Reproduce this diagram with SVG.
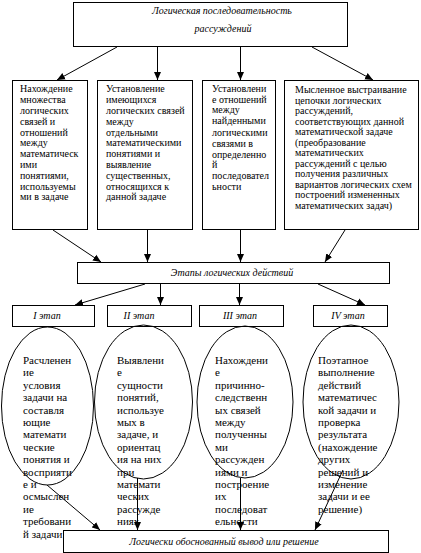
<svg xmlns="http://www.w3.org/2000/svg" width="421" height="553" viewBox="0 0 421 553">
<style>
.box{fill:#fff;stroke:#000;stroke-width:1}
.ell{fill:none;stroke:#000;stroke-width:1}
.t{font-family:"Liberation Serif","Times New Roman",serif;font-size:10px;fill:#000}
.e{font-family:"Liberation Serif","Times New Roman",serif;font-size:11px;fill:#000}
.i{font-family:"Liberation Serif","Times New Roman",serif;font-size:10px;font-style:italic;fill:#000;text-anchor:middle}
.c{fill:none;stroke:#000;stroke-width:1}
</style>
<defs>
<marker id="ah" markerUnits="userSpaceOnUse" markerWidth="8" markerHeight="8" viewBox="0 0 8 8" refX="8" refY="4" orient="auto">
<path d="M0,0.5 L8,4 L0,7.5 Z" fill="#000"/>
</marker>
</defs>
<rect width="421" height="553" fill="#fff"/>

<g id="top">
<rect class="box" x="73.5" y="2.5" width="274" height="44"/>
<text class="i" x="222" y="14">Логическая последовательность</text>
<text class="i" x="223" y="32">рассуждений</text>
</g>

<g id="box1">
<rect class="box" x="12.5" y="80.5" width="75" height="149"/>
<text class="t">
<tspan x="20" y="92">Нахождение</tspan>
<tspan x="20" y="103">множества</tspan>
<tspan x="20" y="114">логических</tspan>
<tspan x="20" y="125">связей и</tspan>
<tspan x="20" y="135.5">отношений</tspan>
<tspan x="20" y="146">между</tspan>
<tspan x="20" y="157">математическ</tspan>
<tspan x="20" y="168">ими</tspan>
<tspan x="20" y="179">понятиями,</tspan>
<tspan x="20" y="189.5">используемы</tspan>
<tspan x="20" y="200">ми в задаче</tspan>
</text>
</g>

<g id="box2">
<rect class="box" x="97.5" y="80.5" width="95" height="149"/>
<text class="t">
<tspan x="106" y="92">Установление</tspan>
<tspan x="106" y="103">имеющихся</tspan>
<tspan x="106" y="114">логических связей</tspan>
<tspan x="106" y="125">между</tspan>
<tspan x="106" y="135.5">отдельными</tspan>
<tspan x="106" y="146">математическими</tspan>
<tspan x="106" y="157">понятиями и</tspan>
<tspan x="106" y="168">выявление</tspan>
<tspan x="106" y="179">существенных,</tspan>
<tspan x="106" y="189.5">относящихся к</tspan>
<tspan x="106" y="200">данной задаче</tspan>
</text>
</g>

<g id="box3">
<rect class="box" x="202.5" y="80.5" width="73" height="149"/>
<text class="t">
<tspan x="212" y="92">Установлени</tspan>
<tspan x="212" y="102.5">е отношений</tspan>
<tspan x="212" y="113">между</tspan>
<tspan x="212" y="124">найденными</tspan>
<tspan x="212" y="135.5">логическими</tspan>
<tspan x="212" y="146.5">связями в</tspan>
<tspan x="212" y="157.5">определенно</tspan>
<tspan x="212" y="168">й</tspan>
<tspan x="212" y="179">последовател</tspan>
<tspan x="212" y="190">ьности</tspan>
</text>
</g>

<g id="box4">
<rect class="box" x="284.5" y="80.5" width="134" height="149"/>
<text class="t">
<tspan x="295" y="93">Мысленное выстраивание</tspan>
<tspan x="295" y="103.5">цепочки логических</tspan>
<tspan x="295" y="114">рассуждений,</tspan>
<tspan x="295" y="124.5">соответствующих данной</tspan>
<tspan x="295" y="135">математической задаче</tspan>
<tspan x="295" y="145.5">(преобразование</tspan>
<tspan x="295" y="156">математических</tspan>
<tspan x="295" y="166.5">рассуждений с целью</tspan>
<tspan x="295" y="177">получения различных</tspan>
<tspan x="295" y="187.5">вариантов логических схем</tspan>
<tspan x="295" y="198">построений измененных</tspan>
<tspan x="295" y="208.5">математических задач)</tspan>
</text>
</g>

<g id="stages">
<rect class="box" x="77.5" y="262.5" width="312" height="21"/>
<text class="i" x="232" y="276">Этапы логических действий</text>
</g>

<g id="stage1">
<rect class="box" x="12.5" y="305.5" width="82" height="21"/>
<text class="i" x="47" y="319">I этап</text>
</g>
<g id="stage2">
<rect class="box" x="107.5" y="305.5" width="84" height="21"/>
<text class="i" x="139" y="319">II этап</text>
</g>
<g id="stage3">
<rect class="box" x="199.5" y="305.5" width="84" height="21"/>
<text class="i" x="240" y="319">III этап</text>
</g>
<g id="stage4">
<rect class="box" x="313.5" y="305.5" width="74" height="21"/>
<text class="i" x="348" y="319">IV этап</text>
</g>

<g id="ell1">
<ellipse class="ell" cx="47.5" cy="406" rx="46" ry="79"/>
<text class="e">
<tspan x="23" y="364">Расчленен</tspan>
<tspan x="23" y="376.4">ие</tspan>
<tspan x="23" y="388.8">условия</tspan>
<tspan x="23" y="401.2">задачи на</tspan>
<tspan x="23" y="413.6">составля</tspan>
<tspan x="23" y="426">ющие</tspan>
<tspan x="23" y="438.4">математи</tspan>
<tspan x="23" y="450.8">ческие</tspan>
<tspan x="23" y="463.2">понятия и</tspan>
<tspan x="23" y="475.6">восприяти</tspan>
<tspan x="23" y="488">е и</tspan>
<tspan x="23" y="500.4">осмыслен</tspan>
<tspan x="23" y="512.8">ие</tspan>
<tspan x="23" y="525.2">требовани</tspan>
<tspan x="23" y="537.6">й задачи</tspan>
</text>
</g>

<g id="ell2">
<ellipse class="ell" cx="143.5" cy="402" rx="49" ry="77"/>
<text class="e">
<tspan x="117" y="364">Выявлени</tspan>
<tspan x="117" y="376.4">е</tspan>
<tspan x="117" y="388.8">сущности</tspan>
<tspan x="117" y="401.2">понятий,</tspan>
<tspan x="117" y="413.6">используе</tspan>
<tspan x="117" y="426">мых в</tspan>
<tspan x="117" y="438.4">задаче, и</tspan>
<tspan x="117" y="450.8">ориентац</tspan>
<tspan x="117" y="463.2">ия на них</tspan>
<tspan x="117" y="475.6">при</tspan>
<tspan x="117" y="488">математи</tspan>
<tspan x="117" y="500.4">ческих</tspan>
<tspan x="117" y="512.8">рассужде</tspan>
<tspan x="117" y="525.2">ниях</tspan>
</text>
</g>

<g id="ell3">
<ellipse class="ell" cx="245" cy="402" rx="48" ry="76"/>
<text class="e">
<tspan x="215" y="364">Нахождени</tspan>
<tspan x="215" y="376.4">е</tspan>
<tspan x="215" y="388.8">причинно-</tspan>
<tspan x="215" y="401.2">следственн</tspan>
<tspan x="215" y="413.6">ых связей</tspan>
<tspan x="215" y="426">между</tspan>
<tspan x="215" y="438.4">полученны</tspan>
<tspan x="215" y="450.8">ми</tspan>
<tspan x="215" y="463.2">рассужден</tspan>
<tspan x="215" y="475.6">иями и</tspan>
<tspan x="215" y="488">построение</tspan>
<tspan x="215" y="500.4">их</tspan>
<tspan x="215" y="512.8">последоват</tspan>
<tspan x="215" y="525.2">ельности</tspan>
</text>
</g>

<g id="ell4">
<ellipse class="ell" cx="351" cy="402" rx="48" ry="77"/>
<text class="e">
<tspan x="318" y="364">Поэтапное</tspan>
<tspan x="318" y="376.4">выполнение</tspan>
<tspan x="318" y="388.8">действий</tspan>
<tspan x="318" y="401.2">математичес</tspan>
<tspan x="318" y="413.6">кой задачи и</tspan>
<tspan x="318" y="426">проверка</tspan>
<tspan x="318" y="438.4">результата</tspan>
<tspan x="318" y="450.8">(нахождение</tspan>
<tspan x="318" y="463.2">других</tspan>
<tspan x="318" y="475.6">решений и</tspan>
<tspan x="318" y="488">изменение</tspan>
<tspan x="318" y="500.4">задачи и ее</tspan>
<tspan x="318" y="512.8">решение)</tspan>
</text>
</g>

<g id="result">
<rect class="box" x="63.5" y="530.5" width="325" height="22"/>
<text class="i" x="224" y="545">Логически обоснованный вывод или решение</text>
</g>

<g id="connectors">
<line class="c" x1="117" y1="47" x2="57" y2="80" marker-end="url(#ah)"/>
<line class="c" x1="157.5" y1="47" x2="157.5" y2="80" marker-end="url(#ah)"/>
<line class="c" x1="240.5" y1="47" x2="240.5" y2="80" marker-end="url(#ah)"/>
<line class="c" x1="312" y1="47" x2="373" y2="80" marker-end="url(#ah)"/>
<line class="c" x1="53" y1="230" x2="101" y2="262" marker-end="url(#ah)"/>
<line class="c" x1="147.5" y1="230" x2="147.5" y2="262" marker-end="url(#ah)"/>
<line class="c" x1="240.5" y1="230" x2="240.5" y2="262" marker-end="url(#ah)"/>
<line class="c" x1="345" y1="230" x2="325" y2="262" marker-end="url(#ah)"/>
<line class="c" x1="145" y1="284" x2="75" y2="305" marker-end="url(#ah)"/>
<line class="c" x1="160.5" y1="284" x2="160.5" y2="305" marker-end="url(#ah)"/>
<line class="c" x1="239.5" y1="284" x2="239.5" y2="305" marker-end="url(#ah)"/>
<line class="c" x1="318" y1="284" x2="365" y2="305" marker-end="url(#ah)"/>
<line class="c" x1="47" y1="485" x2="100" y2="530" marker-end="url(#ah)"/>
<line class="c" x1="137.5" y1="478" x2="137.5" y2="530" marker-end="url(#ah)"/>
<line class="c" x1="240.5" y1="478" x2="240.5" y2="530" marker-end="url(#ah)"/>
<line class="c" x1="343" y1="470" x2="315" y2="530" marker-end="url(#ah)"/>
</g>
</svg>
